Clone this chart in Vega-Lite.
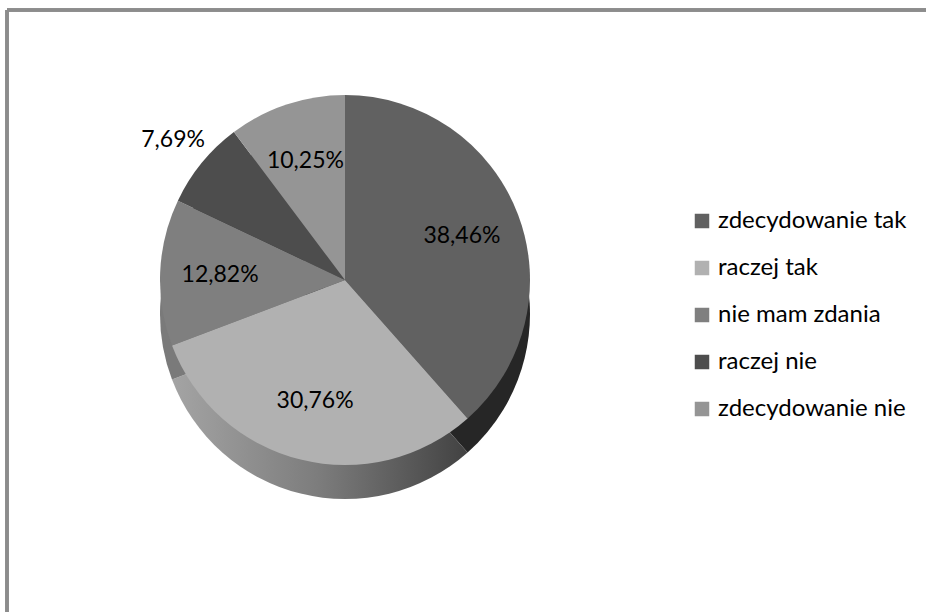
{
  "$schema": "https://vega.github.io/schema/vega-lite/v6.json",
  "autosize": "none",
  "width": 919,
  "height": 602,
  "padding": {"left": 7, "top": 10, "right": 0, "bottom": 0},
  "background": "white",
  "config": {
    "view": {"stroke": null},
    "locale": {"number": {"decimal": ",", "thousands": " ", "grouping": [3], "currency": ["", " zł"]}},
    "text": {"font": "Lato", "fontSize": 23, "color": "#000000"}
  },
  "data": {
    "values": [
      {"k": 1, "odp": "zdecydowanie tak", "v": 0.3846},
      {"k": 2, "odp": "raczej tak", "v": 0.3076},
      {"k": 3, "odp": "nie mam zdania", "v": 0.1282},
      {"k": 4, "odp": "raczej nie", "v": 0.0769},
      {"k": 5, "odp": "zdecydowanie nie", "v": 0.1025}
    ]
  },
  "layer": [
    {
      "mark": {"type": "rule", "stroke": "#8c8c8c", "strokeWidth": 3},
      "encoding": {"x": {"value": 0}}
    },
    {
      "mark": {"type": "rule", "stroke": "#8c8c8c", "strokeWidth": 3},
      "encoding": {"y": {"value": 0}}
    },
    {
      "mark": {"type": "arc", "x": 338, "y": 270, "yOffset": 34, "outerRadius": 185},
      "encoding": {
        "theta": {"field": "v", "type": "quantitative", "stack": true},
        "order": {"field": "k", "type": "ordinal"},
        "color": {
          "condition": {
            "test": "datum.odp === 'raczej tak'",
            "value": {
              "gradient": "linear", "x1": 0, "y1": 0, "x2": 1, "y2": 0,
              "stops": [
                {"offset": 0, "color": "#a4a4a4"},
                {"offset": 0.5, "color": "#7c7c7c"},
                {"offset": 1, "color": "#424242"}
              ]
            }
          },
          "field": "odp",
          "type": "nominal",
          "scale": {
            "domain": ["zdecydowanie tak", "raczej tak", "nie mam zdania", "raczej nie", "zdecydowanie nie"],
            "range": ["#262626", "#8c8c8c", "#7a7a7a", "#3a3a3a", "#5e5e5e"]
          },
          "legend": null
        }
      }
    },
    {
      "mark": {"type": "arc", "x": 338, "y": 270, "outerRadius": 185},
      "encoding": {
        "theta": {"field": "v", "type": "quantitative", "stack": true},
        "order": {"field": "k", "type": "ordinal"},
        "color": {
          "field": "odp",
          "type": "nominal",
          "scale": {
            "domain": ["zdecydowanie tak", "raczej tak", "nie mam zdania", "raczej nie", "zdecydowanie nie"],
            "range": ["#616161", "#b1b1b1", "#7f7f7f", "#4d4d4d", "#959595"]
          },
          "legend": {
            "title": null,
            "orient": "none",
            "legendX": 683,
            "legendY": 199,
            "symbolType": "square",
            "symbolSize": 210,
            "symbolStrokeWidth": 0,
            "labelFont": "Lato",
            "labelFontSize": 24,
            "labelLimit": 400,
            "labelColor": "#000000",
            "labelOffset": 4,
            "rowPadding": 23,
            "padding": 0
          }
        }
      }
    },
    {
      "mark": {"type": "text", "x": 338, "y": 270, "radius": 125},
      "encoding": {
        "theta": {"field": "v", "type": "quantitative", "stack": true},
        "order": {"field": "k", "type": "ordinal"},
        "text": {
          "condition": {"test": "datum.v < 0.09", "value": ""},
          "field": "v", "type": "quantitative", "format": ".2%"
        }
      }
    },
    {
      "mark": {"type": "text", "x": 338, "y": 270, "radius": 222},
      "encoding": {
        "theta": {"field": "v", "type": "quantitative", "stack": true},
        "order": {"field": "k", "type": "ordinal"},
        "text": {
          "condition": {"test": "datum.v >= 0.09", "value": ""},
          "field": "v", "type": "quantitative", "format": ".2%"
        }
      }
    }
  ],
  "resolve": {"scale": {"color": "independent"}}
}
